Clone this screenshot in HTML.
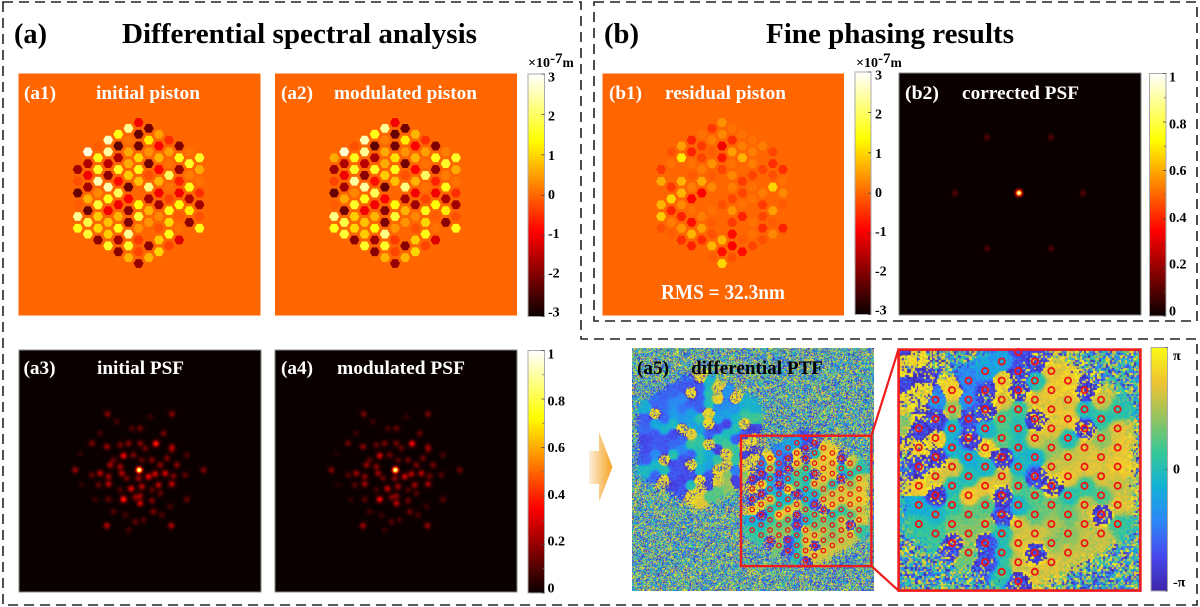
<!DOCTYPE html>
<html lang="en">
<head>
<meta charset="utf-8">
<title>Differential spectral analysis and fine phasing results</title>
<style>
html,body{margin:0;padding:0;background:#fff;}
#root{position:relative;width:1200px;height:607px;overflow:hidden;background:#fff;font-family:"Liberation Serif",serif;}
canvas{position:absolute;display:block;}
#ptfMain{filter:blur(0.38px);}
#ptfInset{filter:blur(0.3px);}
svg{position:absolute;left:0;top:0;}
text{font-family:"Liberation Serif",serif;font-weight:bold;}
</style>
</head>
<body>
<div id="root">
<canvas id="psfA3" width="242" height="242" style="left:19px;top:350px"></canvas>
<canvas id="psfA4" width="242" height="242" style="left:275px;top:350px"></canvas>
<canvas id="psfB2" width="242" height="242" style="left:899px;top:73px"></canvas>
<canvas id="ptfMain" width="242" height="243" style="left:632px;top:348px"></canvas>
<canvas id="ptfInset" width="242" height="242" style="left:898px;top:349px"></canvas>
<svg id="overlay" width="1200" height="607" viewBox="0 0 1200 607">
<defs>
<linearGradient id="hotGrad" x1="0" y1="1" x2="0" y2="0">
<stop offset="0" stop-color="#0a0000"/><stop offset="0.35" stop-color="#ff0000"/><stop offset="0.725" stop-color="#ffff00"/><stop offset="1" stop-color="#ffffff"/>
</linearGradient>
<linearGradient id="parulaGrad" x1="0" y1="1" x2="0" y2="0">
<stop offset="0" stop-color="#3e26a8"/><stop offset="0.143" stop-color="#4748ee"/><stop offset="0.286" stop-color="#2d87f7"/><stop offset="0.429" stop-color="#12b1d6"/><stop offset="0.571" stop-color="#37c896"/><stop offset="0.714" stop-color="#96c35f"/><stop offset="0.857" stop-color="#f0c332"/><stop offset="1" stop-color="#f9fb15"/>
</linearGradient>
<linearGradient id="arrowGrad" x1="0" y1="0" x2="1" y2="0">
<stop offset="0" stop-color="#fdf0dc"/><stop offset="1" stop-color="#f5a21e"/>
</linearGradient>
</defs>
<path d="M3 2H581V339H1197V605H3Z" fill="none" stroke="#222" stroke-width="1.6" stroke-dasharray="10 6"/>
<path d="M594 2H1197V321H594Z" fill="none" stroke="#222" stroke-width="1.6" stroke-dasharray="10 6"/>

<text x="14" y="43" font-size="29" fill="#000" textLength="33" lengthAdjust="spacingAndGlyphs">(a)</text>
<text x="122" y="43" font-size="29" fill="#000" textLength="355" lengthAdjust="spacingAndGlyphs">Differential spectral analysis</text>
<text x="604" y="43" font-size="29" fill="#000" textLength="35" lengthAdjust="spacingAndGlyphs">(b)</text>
<text x="766" y="43" font-size="29" fill="#000" textLength="248" lengthAdjust="spacingAndGlyphs">Fine phasing results</text>

<rect id="panelA1" x="18.5" y="73.5" width="242" height="242"/>
<rect id="panelA2" x="275" y="73.5" width="242" height="242"/>
<rect id="panelB1" x="602.5" y="73.5" width="241.5" height="242"/>
<g id="hexLayer"></g>

<rect x="19" y="350" width="242" height="242" fill="none" stroke="#8a8a8a" stroke-width="1"/>
<rect x="275" y="350" width="242" height="242" fill="none" stroke="#8a8a8a" stroke-width="1"/>
<rect x="899" y="73" width="242" height="242" fill="none" stroke="#8a8a8a" stroke-width="1"/>

<text x="24" y="99" font-size="19" fill="#fff" textLength="32" lengthAdjust="spacingAndGlyphs">(a1)</text>
<text x="96" y="99" font-size="19" fill="#fff" textLength="104" lengthAdjust="spacingAndGlyphs">initial piston</text>
<text x="281" y="99" font-size="19" fill="#fff" textLength="32" lengthAdjust="spacingAndGlyphs">(a2)</text>
<text x="334" y="99" font-size="19" fill="#fff" textLength="143" lengthAdjust="spacingAndGlyphs">modulated piston</text>
<text x="23.5" y="374" font-size="19" fill="#fff" textLength="32" lengthAdjust="spacingAndGlyphs">(a3)</text>
<text x="97" y="374" font-size="19" fill="#fff" textLength="87" lengthAdjust="spacingAndGlyphs">initial PSF</text>
<text x="281" y="374" font-size="19" fill="#fff" textLength="32" lengthAdjust="spacingAndGlyphs">(a4)</text>
<text x="337" y="374" font-size="19" fill="#fff" textLength="128" lengthAdjust="spacingAndGlyphs">modulated PSF</text>
<text x="609" y="99" font-size="19" fill="#fff" textLength="33" lengthAdjust="spacingAndGlyphs">(b1)</text>
<text x="665" y="99" font-size="19" fill="#fff" textLength="121" lengthAdjust="spacingAndGlyphs">residual piston</text>
<text x="661" y="299" font-size="21" fill="#fff" textLength="124" lengthAdjust="spacingAndGlyphs">RMS = 32.3nm</text>
<text x="905" y="99" font-size="19" fill="#fff" textLength="34" lengthAdjust="spacingAndGlyphs">(b2)</text>
<text x="962" y="99" font-size="19" fill="#fff" textLength="117" lengthAdjust="spacingAndGlyphs">corrected PSF</text>

<text x="528" y="67" font-size="14" fill="#000">×10<tspan dy="-4" font-size="15">-7</tspan><tspan dy="4" font-size="13.5">m</tspan></text>
<text x="856" y="67" font-size="14" fill="#000">×10<tspan dy="-4" font-size="15">-7</tspan><tspan dy="4" font-size="13.5">m</tspan></text>

<g id="colorbars"></g>

<polygon points="589,451 599,451 599,432 612.4,467 599,502 599,484 589,484" fill="url(#arrowGrad)"/>

<text x="637" y="374" font-size="19" fill="#000" textLength="32" lengthAdjust="spacingAndGlyphs">(a5)</text>
<text x="691" y="374" font-size="19" fill="#000" textLength="132" lengthAdjust="spacingAndGlyphs">differential PTF</text>

<g id="ptfCircles"></g>
<rect x="741" y="435.7" width="130.4" height="130.4" fill="none" stroke="#ee1c1c" stroke-width="2.4"/>
<rect x="898.6" y="349.6" width="241.8" height="241" fill="none" stroke="#ee1c1c" stroke-width="2.6"/>
<line x1="871.4" y1="435.7" x2="898.5" y2="349.4" stroke="#ee1c1c" stroke-width="2.2"/>
<line x1="871.4" y1="566" x2="898.5" y2="590.6" stroke="#ee1c1c" stroke-width="2.2"/>
</svg>
</div>

<script>
/* ---------- piston data: one inner array per hexagon column, top to bottom (units of 1e-7 m) ---------- */
const initialPiston = [
 [0,-1.7,-0.2,-2.2,-0.1,2.3,1.5],
 [2.8,-1.6,-1,-1.7,0.7,-2.2,1.8,1.7],
 [-0.1,1.5,1.6,2.5,0.3,1.7,0.9,1,-1.9],
 [2.6,2.4,-1.5,-1.9,2.5,1.5,-1,0.8,0.9,1.6],
 [1.5,-2.3,-1.6,1.6,-0.8,1.9,-1,0.7,1.5,-1.7,-1.9],
 [2.3,0.1,0.6,0.6,0.9,-2.2,-0.9,-1.9,-2,2.3,1.6,0.7],
 [-1,-2.2,-2.1,1,1.5,0.8,0,1.4,1.7,0.4,-0.4,-0.3,-1.8],
 [-2.1,1.2,0.4,-2.1,-0.2,2.2,-1.7,0.7,0.4,0,-1.9,0.7],
 [0.5,-0.9,0.7,-0.9,0.7,-1,-1.7,0.3,-0.2,0.9,1],
 [-0.5,0.5,0.1,2,0.1,-0.3,1.5,1,1.5,-0.3],
 [-2,1.5,-1.8,-0.6,-1,1.4,-0.1,0.1,-1.2],
 [0.1,1.6,0.2,1.5,-1.6,1.2,-1.9,0],
 [1.6,0.6,0.1,-0.5,-1.7,-0.2,1.5]
];
const modulatedPiston = [
 [0.6,-1.7,-0.3,-2.2,-0.1,2.2,1.5],
 [2.7,-1.6,-1,-1.7,0.6,-2.1,1.8,1.7],
 [-0.2,1.5,1.6,2.4,0.3,1.6,0.9,1,-1.9],
 [2.5,2.3,-1.5,-1.9,2.4,1.5,-1,0.8,0.9,1.6],
 [1.5,-2.3,-1.6,1.6,-0.8,1.9,-1,0.7,1.4,-1.7,-1.9],
 [2.3,0.2,0.6,0.6,0.9,-2.2,-0.9,-1.9,-2,2.2,1.6,0.7],
 [-1,-2.2,-2.1,1.1,1.5,0.8,0,1.4,1.7,0.4,-0.4,-0.3,-1.8],
 [-2.1,1.2,0.4,-2.1,-0.2,2.2,-1.7,0.7,0.4,0,-1.9,0.7],
 [0.7,-0.9,0.7,-0.9,0.7,-1,-1.7,0.3,-0.2,0.9,1],
 [-0.5,0.5,0.1,2,0.1,-0.3,1.5,1,1.5,-0.3],
 [-2,1.5,-1.8,-0.6,-1,1.4,-0.1,0.1,-1.2],
 [0.2,1.6,0.2,1.5,-1.6,1.2,-1.9,0],
 [1.6,0.6,0.1,-0.5,-1.7,-0.2,1.5]
];
const residualPiston = [
 [0,-0.4,0.6,0,0.7,0.9,-0.2],
 [-0.2,0.1,0,-0.4,1,-0.6,0.2,-0.1],
 [0.5,1.2,0,0.7,0.7,0.3,-0.6,0.4,-0.5],
 [-0.6,-0.6,0.1,-0.1,0.2,-0.9,0.1,-0.8,0.7,-0.6],
 [0.1,-0.4,-0.3,0.2,0.6,-0.9,0,0.2,0.5,-0.5,0],
 [-0.4,0.2,-0.1,0.4,-0.1,0.3,0,0.1,-0.1,-0.2,0.7,-0.1],
 [0.4,0.3,-1,-0.7,-0.3,0,0,-0.2,0,0,0.7,-0.8,1],
 [0.1,-0.5,0.5,0.1,0.3,0.2,-0.3,0.4,-0.4,-0.8,-0.9,-0.2],
 [0.1,0.2,0.7,0,-0.4,-0.3,0.1,-0.6,0,-0.1,-0.8],
 [0.1,0.2,0.2,-0.3,0.1,0.1,0,0.1,0.1,-0.3],
 [0.2,0,-0.3,0,0.2,-0.4,-0.3,-0.5,-0.2],
 [-0.3,-0.5,-0.2,1,0,0.5,-0.1,0.3],
 [0,-0.5,0.1,0.3,-0.1,0,-0.6]
];

/* ---------- colorbar tick labels ---------- */
const pistonTicks = [3,2,1,0,-1,-2,-3];
const psfTicks = [1,0.8,0.6,0.4,0.2,0];
const psfMinorTicks = [0.9,0.7,0.5,0.3,0.1];
const phaseTickLabels = ["π","0","-π"];
const phaseTickValues = [1,0,-1];

/* ---------- PSF speckles: offsets in focal-plane units from the core, and intensity ---------- */
const speckleU = [-95,98,-192,193,-97,96,50,-47,-47,-24,-142,-97,-57,-32,3,98,143,-117,-67,-22,3,33,73,18,-17,-87,-57,-52,-77,-117,-92,-142,-92,-122,28,48,78,103,58,98,138,113,63,38,83,98,8,-2,8,3,3,-12,38,63,-92,-132,-77,-42,-12,13,43,68,143,-32,93,-172,-177,38,-37,-57];
const speckleV = [-168,-168,0,0,167,167,-79,-43,88,56,-80,-70,-75,-80,-80,-70,-45,-110,-145,-125,-125,-160,-110,-65,-45,-15,-10,10,-30,10,20,15,42,45,20,12,10,18,45,42,15,-15,-15,-30,-35,-60,-30,25,50,78,100,82,92,70,88,88,125,135,155,150,125,135,88,180,110,45,-50,60,25,60];
const speckleI = [.22,.22,.25,.2,.3,.28,.5,.42,.5,.38,.2,.25,.18,.22,.2,.22,.12,.1,.1,.12,.18,.08,.18,.18,.2,.28,.25,.28,.15,.3,.25,.15,.3,.15,.4,.35,.35,.2,.3,.32,.15,.22,.22,.2,.2,.18,.15,.25,.3,.25,.35,.22,.2,.15,.15,.08,.12,.1,.15,.12,.2,.12,.15,.1,.1,.06,.06,.14,.18,.12];
const modulatedSpeckleGain = 0.85;
const ghostU = [-96,96,-192,192,-96,96];
const ghostV = [-167,-167,0,0,167,167];
const ghostI = [.12,.12,.12,.12,.12,.12];

/* ---------- differential PTF: phase (radians) per lattice cell ---------- */
const ptfColumnIndex = [0,1,2,3,4,5,6,7,8,9,10,11,12];
const ptfFirstRow = [-6,-7,-8,-9,-10,-11,-12,-11,-10,-9,-8,-7,-6];
const ptfPhase = [
 [3,-2.5,2.7,-2.5,2.4,-0.5,0.3],
 [-1.2,-2.4,2.4,-2.6,2,-2.7,-0.3,0.4],
 [2.4,1.4,-0.3,-0.4,2,0,0.3,1,-2.6],
 [-1.3,-1.2,-2.3,-2.5,-0.5,0,2.4,0.8,1.2,1],
 [-0.8,-2.4,-2.6,-0.3,2.5,-0.2,2.2,0.7,1.2,-2.3,-2.3],
 [-0.7,2.3,2,0.7,0.6,-2.7,1.9,-2.6,-2.3,0,0,0.2],
 [-2.2,-2.6,-2.8,0.3,0,-0.1,-0.2,0.7,-0.2,1.9,1.9,1.9,-2.6],
 [-2.6,0,2.1,-2.8,1.9,-0.4,-2.4,0.7,0.8,1.9,-2.5,1.9],
 [2.1,2.3,2.1,2.1,1.3,1.8,-2.8,1,1.6,1.3,2],
 [2.4,2,2.2,-0.1,1.8,2.2,0.1,0.9,1.2,1.8],
 [-2.7,0,-2.8,2,2.1,0.3,1.8,1.7,1.8],
 [1.8,0.2,1.2,2,2,0.6,-2.7,1.8],
 [0.2,2,2.2,2.3,1.8,2,0.4]
];
/* grid columns that carry no marker at these rows */
const ptfMarkerColumns = [0,1,2,3,4,5,6,7,8,9,10,11,12];
const ptfUnmarkedColumn = 0;
const ptfUnmarkedRow = -6;

/* ---------- axis functions ---------- */
const hexDx = 10.15, hexDy = 11.75, hexRadius = 5;
function hexX(cx, col){ return cx + (col-6)*hexDx; }
function hexY(cy, col, idx, n){ return cy + (idx-(n-1)/2)*hexDy; }

function mix(a,b,t){ return a+(b-a)*t; }
function hotRGB(t){
  t = Math.max(0,Math.min(1,t));
  if(t<0.35){ return [mix(10,255,t/0.35),0,0]; }
  if(t<0.725){ return [255,255*(t-0.35)/0.375,0]; }
  return [255,255,255*(t-0.725)/0.275];
}
function pistonColor(v){
  const c = hotRGB((v+3)/6);
  return 'rgb('+Math.round(c[0])+','+Math.round(c[1])+','+Math.round(c[2])+')';
}
const parulaStops = [[62,38,168],[71,72,238],[45,135,247],[18,177,214],[55,200,150],[150,195,95],[240,195,50],[249,251,21]];
function parulaRGB(t){
  t = Math.max(0,Math.min(0.9999,t))*(parulaStops.length-1);
  const i = Math.floor(t), f = t-i, a = parulaStops[i], b = parulaStops[i+1];
  return [mix(a[0],b[0],f),mix(a[1],b[1],f),mix(a[2],b[2],f)];
}

const SVGNS = 'http://www.w3.org/2000/svg';

/* ---------- piston hexagons ---------- */
function drawPistonMap(values, panelId, cx, cy){
  document.getElementById(panelId).setAttribute('fill', pistonColor(0));
  const layer = document.getElementById('hexLayer');
  values.forEach(function(column, col){
    column.forEach(function(v, idx){
      const x = hexX(cx,col), y = hexY(cy,col,idx,column.length);
      let pts = '';
      for(let a=0;a<6;a++){
        const th = a*Math.PI/3;
        pts += (x+hexRadius*Math.cos(th)).toFixed(2)+','+(y+hexRadius*Math.sin(th)).toFixed(2)+' ';
      }
      const hex = document.createElementNS(SVGNS,'polygon');
      hex.setAttribute('points',pts);
      hex.setAttribute('fill',pistonColor(v));
      
      
      layer.appendChild(hex);
    });
  });
}
drawPistonMap(initialPiston,'panelA1',138.6,193);
drawPistonMap(modulatedPiston,'panelA2',395,193);
drawPistonMap(residualPiston,'panelB1',722,193);

/* ---------- colorbars ---------- */
function drawColorbar(x,w,top,bottom,fill,name){
  const g = document.getElementById('colorbars');
  const r = document.createElementNS(SVGNS,'rect');
  r.setAttribute('x',x);
  r.setAttribute('y',top);
  r.setAttribute('width',w);
  r.setAttribute('height',bottom-top);
  r.setAttribute('fill',fill);
  r.setAttribute('stroke','#a8a8a8');
  r.setAttribute('stroke-width','1');
  
  
  g.appendChild(r);
}
function addTick(x,w,y,len,color){
  const l = document.createElementNS(SVGNS,'line');
  l.setAttribute('x1',x+w-len);
  l.setAttribute('x2',x+w);
  l.setAttribute('y1',y);
  l.setAttribute('y2',y);
  l.setAttribute('stroke',color);
  l.setAttribute('stroke-width','0.8');
  
  
  document.getElementById('colorbars').appendChild(l);
}
function addLabel(x,y,str){
  const t = document.createElementNS(SVGNS,'text');
  t.setAttribute('x',x);
  t.setAttribute('y',y);
  t.setAttribute('font-size','14');
  t.setAttribute('fill','#000');
  
  
  t.textContent = str;
  document.getElementById('colorbars').appendChild(t);
}
function linearAxis(d0,d1,r0,r1){ return function(v){ return r0+(v-d0)/(d1-d0)*(r1-r0); }; }

function pistonBar(x,w,top,bottom,labelX){
  drawColorbar(x,w,top,bottom,'url(#hotGrad)','piston-colorbar');
  const tickY = linearAxis(-3,3,bottom,top);
  const labelY = linearAxis(-3,3,bottom-4.5,top+3);
  pistonTicks.forEach(function(v){
    addTick(x,w,tickY(v),3,'#444');
    addLabel(labelX,labelY(v)+4.5,String(v));
  });
}
function psfBar(x,w,top,bottom,labelX){
  drawColorbar(x,w,top,bottom,'url(#hotGrad)','psf-colorbar');
  const tickY = linearAxis(0,1,bottom,top);
  const labelY = linearAxis(0,1,bottom-5,top+3.5);
  psfTicks.forEach(function(v){
    addTick(x,w,tickY(v),3,'#444');
    addLabel(labelX,labelY(v)+4.5,String(v));
  });
  psfMinorTicks.forEach(function(v){
    addTick(x,w,tickY(v),2,'#666');
  });
}
pistonBar(528,16.5,74,316.5,548);
pistonBar(855,16,72,314.5,875);
psfBar(528,16.5,350.5,593,547.5);
psfBar(1149.5,16.5,73.5,316,1169);
drawColorbar(1151,16.5,347.5,591,'url(#parulaGrad)','phase-colorbar');
const phaseLabelY = linearAxis(-1,1,582,355.7);
phaseTickValues.forEach(function(v,i){
  addTick(1151,16.5,linearAxis(-1,1,591,347.5)(v),2.5,'#555');
  addLabel(1173,phaseLabelY(v)+4.5,phaseTickLabels[i]);
});

/* ---------- PSF rendering ---------- */
const psfUnit = 1/3;
function drawPsf(id, coreX, coreY, us, vs, is, gain, sigma){
  const cv = document.getElementById(id), ctx = cv.getContext('2d');
  const W = cv.width, H = cv.height, field = new Float32Array(W*H);
  function splat(px,py,amp,s){
    const rad = Math.ceil(s*4);
    for(let y=Math.max(0,Math.floor(py-rad)); y<=Math.min(H-1,Math.ceil(py+rad)); y++){
      for(let x=Math.max(0,Math.floor(px-rad)); x<=Math.min(W-1,Math.ceil(px+rad)); x++){
        const d2=(x+0.5-px)*(x+0.5-px)+(y+0.5-py)*(y+0.5-py);
        field[y*W+x]+=amp*Math.exp(-d2/(2*s*s));
      }
    }
  }
  us.forEach(function(u,i){
    splat(coreX+u*psfUnit, coreY+vs[i]*psfUnit, is[i]*gain, sigma);
  });
  splat(coreX,coreY,1.05,2);
  const img = ctx.createImageData(W,H);
  for(let i=0;i<W*H;i++){
    const c = hotRGB(field[i]);
    img.data[4*i]=c[0];
    img.data[4*i+1]=c[1];
    img.data[4*i+2]=c[2];
    img.data[4*i+3]=255;
  }
  ctx.putImageData(img,0,0);
}
drawPsf('psfA3',120.2,120,speckleU,speckleV,speckleI,0.85,2.2);
drawPsf('psfA4',120.4,120,speckleU,speckleV,speckleI,0.85*modulatedSpeckleGain,2.2);
drawPsf('psfB2',120,120,ghostU,ghostV,ghostI,1,2);

/* ---------- PTF rendering: sharp cell phases, broad envelope, decorrelation halo ---------- */
const ptfCx = 173.6, ptfCy = 151.2, ptfDx = 8.9, ptfDy = 5.135;
function ptfX(col){ return ptfCx+(col-6)*ptfDx; }
function ptfY(row){ return ptfCy+row*ptfDy; }

function buildPtf(){
  const W=242,H=243;
  const sharp2=2*2.7*2.7, broad2=2*4.7*4.7, halo2=2*4.8*4.8;
  const re=new Float32Array(W*H), im=new Float32Array(W*H), env=new Float32Array(W*H), halo=new Float32Array(W*H);
  function stamp(px,py,phi,reflect){
    const rad=16;
    const gain=(phi<-2.2)?2:1;
    const haloGain=(phi<-2.2)?0.85:(phi>2.45?0.3:0);
    const signed=phi*reflect;
    for(let y=Math.max(0,Math.floor(py-rad)); y<=Math.min(H-1,Math.ceil(py+rad)); y++){
      for(let x=Math.max(0,Math.floor(px-rad)); x<=Math.min(W-1,Math.ceil(px+rad)); x++){
        const d2=(x-px)*(x-px)+(y-py)*(y-py), i=y*W+x;
        const w=gain*Math.exp(-d2/sharp2);
        re[i]+=w*Math.cos(signed);
        im[i]+=w*Math.sin(signed);
        env[i]+=Math.exp(-d2/broad2);
        halo[i]+=haloGain*Math.exp(-d2/halo2);
      }
    }
  }
  ptfColumnIndex.forEach(function(col,ci){
    ptfPhase[ci].forEach(function(phi,j){
      const row=ptfFirstRow[ci]+2*j, x=ptfX(col), y=ptfY(row);
      stamp(x,y,phi,1);
      stamp(W-1-x,H-1-y,phi,-1);
    });
  });
  /* deterministic grain only: the speckle texture of the measured image */
  let seed=20240611;
  function rnd(){
    seed|=0; seed=seed+0x6D2B79F5|0;
    let t=Math.imul(seed^seed>>>15,1|seed);
    t=t+Math.imul(t^t>>>7,61|t)^t;
    return ((t^t>>>14)>>>0)/4294967296;
  }
  function gauss(){ return Math.sqrt(-2*Math.log(rnd()+1e-9))*Math.cos(2*Math.PI*rnd()); }
  const off=document.createElement('canvas');
  off.width=W; off.height=H;
  const octx=off.getContext('2d'), img=octx.createImageData(W,H);
  for(let i=0;i<W*H;i++){
    const mag=Math.hypot(re[i],im[i])+1e-6;
    const e=Math.min(env[i],1.25);
    const sd=0.2+0.55*Math.min(halo[i],1);
    const a=e*re[i]/mag+sd*gauss(), b=e*im[i]/mag+sd*gauss();
    const c=parulaRGB((Math.atan2(b,a)+Math.PI)/(2*Math.PI));
    img.data[4*i]=c[0];
    img.data[4*i+1]=c[1];
    img.data[4*i+2]=c[2];
    img.data[4*i+3]=255;
  }
  octx.putImageData(img,0,0);
  document.getElementById('ptfMain').getContext('2d').drawImage(off,0,0);
  const ictx=document.getElementById('ptfInset').getContext('2d');
  ictx.imageSmoothingEnabled=false;
  ictx.drawImage(off,109,88,130,130,0,0,242,242);
}
buildPtf();

/* ---------- sub-aperture ring markers ---------- */
function addRing(x,y,r,sw){
  const c=document.createElementNS(SVGNS,'circle');
  c.setAttribute('cx',x);
  c.setAttribute('cy',y);
  c.setAttribute('r',r);
  c.setAttribute('fill','none');
  c.setAttribute('stroke','#f01414');
  c.setAttribute('stroke-width',sw);
  
  
  document.getElementById('ptfCircles').appendChild(c);
}
const ptfOriginX=632, ptfOriginY=348, insetOriginX=898, insetOriginY=349, insetGain=242/130;
ptfMarkerColumns.forEach(function(col){
  const half=12-Math.abs(col-6);
  for(let row=-half; row<=half; row+=2){
    if(col===ptfUnmarkedColumn && row===ptfUnmarkedRow){ continue; }
    const x=ptfX(col), y=ptfY(row);
    addRing(ptfOriginX+x,ptfOriginY+y,2.2,1.3);
    addRing(insetOriginX+(x-109)*insetGain,insetOriginY+(y-88)*insetGain,3.1,1.8);
  }
});
</script>
</body>
</html>
